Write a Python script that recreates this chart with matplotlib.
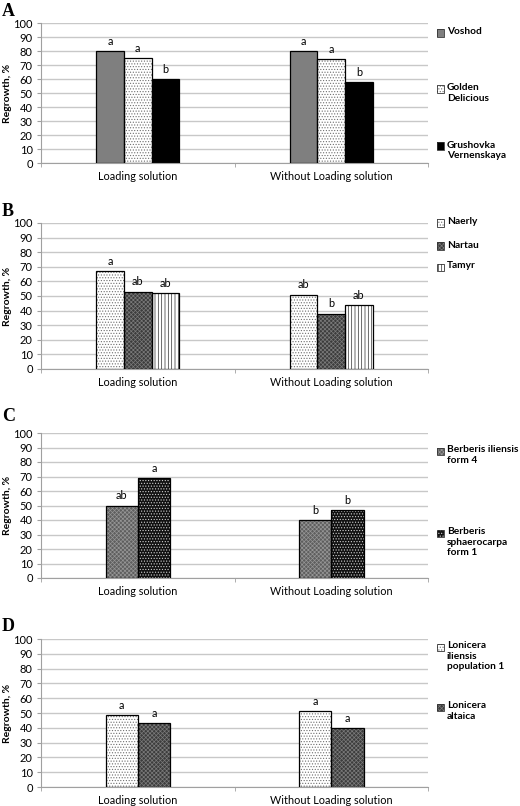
import numpy as np
import matplotlib.pyplot as plt
from matplotlib.patches import Rectangle

plt.rcParams['font.family'] = ['Lato', 'DejaVu Sans']
plt.rcParams['hatch.linewidth'] = 0.5

W, H = 520, 806

categories = ['Loading solution', 'Without Loading solution']

# Panel A - apple cultivars
a_series = ['Voshod', 'Golden\nDelicious', 'Grushovka\nVernenskaya']
a_values = [[80, 80], [75, 74], [60, 58]]
a_letters = [['a', 'a'], ['a', 'a'], ['b', 'b']]

# Panel B
b_series = ['Naerly', 'Nartau', 'Tamyr']
b_values = [[67, 51], [53, 38], [52, 44]]
b_letters = [['a', 'ab'], ['ab', 'b'], ['ab', 'ab']]

# Panel C
c_series = ['Berberis iliensis\nform 4', 'Berberis\nsphaerocarpa\nform 1']
c_values = [[50, 40], [69, 47]]
c_letters = [['ab', 'b'], ['a', 'b']]

# Panel D
d_series = ['Lonicera\niliensis\npopulation 1', 'Lonicera\naltaica']
d_values = [[48.5, 51.5], [43, 40]]
d_letters = [['a', 'a'], ['a', 'a']]

# styles: (face, hatch, hatch colour)
GRAY = ('#7f7f7f', None, None)
DOTS = ('white', '......', '#707070')
BLACK = ('black', None, None)
CHECK = ('#3c3c3c', 'xxxxxxxx', '#7a7a7a')
CHECK_MID = ('#5e5e5e', 'xxxxxxxx', '#959595')
VLINES = ('white', '|||||', '#303030')
BLACK_DOTS = ('#111111', '......', '#d0d0d0')

panels = [
    ('A', a_series, a_values, a_letters, [GRAY, DOTS, BLACK],
     (23, 163), [33, 89, 146], 3),
    ('B', b_series, b_values, b_letters, [DOTS, CHECK, VLINES],
     (223, 369), [223, 246, 267], 203),
    ('C', c_series, c_values, c_letters, [CHECK_MID, BLACK_DOTS],
     (433, 578), [451, 533], 408),
    ('D', d_series, d_values, d_letters, [DOTS, CHECK],
     (639, 787), [647, 707], 618),
]

fig = plt.figure(figsize=(W / 100, H / 100), dpi=100)

ax_left, ax_right = 41, 428


def fx(px):
    return px / W


def fy(py):
    return 1 - py / H


for tag, series, values, letters, styles, (top, bot), leg_y, tag_y in panels:
    ax = fig.add_axes([fx(ax_left), fy(bot), fx(ax_right - ax_left), (bot - top) / H])
    n = len(series)
    w = 1 / (n + 4)
    x = np.arange(len(categories))
    for i in range(n):
        xi = x + (i - (n - 1) / 2) * w
        face, hatch, hcol = styles[i]
        ax.bar(xi, values[i], w, color=face, hatch=hatch,
               edgecolor=hcol if hatch else face, linewidth=0, zorder=2)
        ax.bar(xi, values[i], w, fill=False, edgecolor='black', linewidth=0.9, zorder=3)
        for xx, v, lab in zip(xi, values[i], letters[i]):
            ax.annotate(lab, (xx, v), xytext=(0, 3), textcoords='offset points',
                        ha='center', va='bottom', fontsize=7.8)

    ax.set_xlim(-0.5, 1.5)
    ax.set_ylim(0, 100)
    ax.set_yticks(np.arange(0, 101, 10))
    ax.set_xticks(x)
    ax.set_xticklabels(categories, fontsize=7.8)
    ax.set_xticks([-0.5, 0.5, 1.5], minor=True)
    ax.tick_params(axis='x', which='major', length=0, pad=6)
    ax.tick_params(axis='x', which='minor', length=3, color='#a0a0a0')
    ax.tick_params(axis='y', length=3, color='#a0a0a0', labelsize=8, pad=3)
    ax.grid(axis='y', color='#c8c8c8', linewidth=1)
    ax.set_axisbelow(True)
    for s in ['top', 'right']:
        ax.spines[s].set_visible(False)
    for s in ['left', 'bottom']:
        ax.spines[s].set_color('#a0a0a0')
    ax.set_ylabel('Regrowth, %', fontsize=7.5, fontweight='bold')
    ax.yaxis.set_label_coords((12 - ax_left) / (ax_right - ax_left), 0.5)

    fig.text(fx(2), fy(tag_y), tag, fontsize=13, fontweight='bold',
             family='Liberation Serif', va='top', ha='left')

    # legend drawn entry by entry
    for i in range(n):
        face, hatch, hcol = styles[i]
        cy = leg_y[i]
        fig.patches.append(Rectangle((fx(437), fy(cy + 3.5)), fx(7), 7 / H,
                                     facecolor=face, hatch=hatch,
                                     edgecolor=hcol if hatch else face, linewidth=0,
                                     transform=fig.transFigure, figure=fig))
        fig.patches.append(Rectangle((fx(437), fy(cy + 3.5)), fx(7), 7 / H,
                                     fill=False, edgecolor='#333333', linewidth=0.6,
                                     transform=fig.transFigure, figure=fig))
        fig.text(fx(447), fy(cy - 5.5), series[i], fontsize=7.3, fontweight='bold',
                 va='top', ha='left', linespacing=1.2)

fig.savefig('out.png', dpi=100, facecolor='white')
